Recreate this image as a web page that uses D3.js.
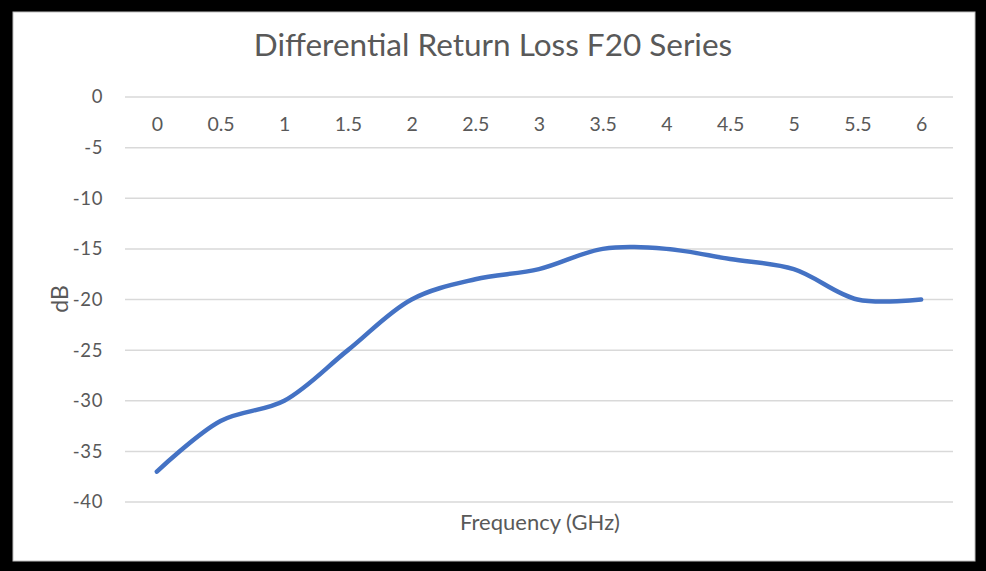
<!DOCTYPE html>
<html><head><meta charset="utf-8">
<script src="https://cdn.jsdelivr.net/npm/d3@7"></script>
<style>html,body{margin:0;padding:0;background:#000;}svg{display:block;}</style>
</head><body>
<svg id="c" width="986" height="571"></svg>
<script>
const categories = ["0","0.5","1","1.5","2","2.5","3","3.5","4","4.5","5","5.5","6"];
const values = [-37,-32,-30,-25,-20,-18,-17,-15,-15,-16,-17,-20,-20];
const yTicks = [0,-5,-10,-15,-20,-25,-30,-35,-40];
const title = "Differential Return Loss F20 Series";
const xTitle = "Frequency (GHz)";
const yTitle = "dB";

const svg = d3.select("#c");
const font = "Lato, 'Open Sans', sans-serif";
svg.append("rect").attr("x",0).attr("y",0).attr("width",986).attr("height",571).attr("fill","#000");
svg.append("rect").attr("x",13).attr("y",12).attr("width",962).attr("height",549).attr("fill","#fff").attr("stroke","#bfbfbf").attr("stroke-width",1);

const L=125,R=953,T=97,B=502;
const x = d3.scalePoint().domain(categories).range([L,R]).padding(0.5);
const y = d3.scaleLinear().domain([-40,0]).range([B,T]);

// gridlines
svg.append("g").selectAll("line").data(yTicks).join("line")
  .attr("x1",L).attr("x2",R).attr("y1",d=>y(d)).attr("y2",d=>y(d))
  .attr("stroke","#d9d9d9").attr("stroke-width",1.5);

// y axis labels
const yAxis = d3.axisLeft(y).tickValues(yTicks).tickSize(0).tickPadding(0).tickFormat(d=>String(d));
const gy = svg.append("g").attr("transform",`translate(${L-22},0)`).call(yAxis);
gy.select(".domain").remove();
gy.selectAll("text").attr("font-family",font).attr("font-size",18.5).attr("fill","#595959").attr("letter-spacing","0.6px");

// x axis labels at zero line
const xAxis = d3.axisBottom(x).tickSize(0).tickPadding(0);
const gx = svg.append("g").attr("transform",`translate(0,${y(0)+20})`).call(xAxis);
gx.select(".domain").remove();
gx.selectAll("text").attr("font-family",font).attr("font-size",19.5).attr("fill","#595959");

// line
const line = d3.line().x((d,i)=>x(categories[i])).y(d=>y(d)).curve(d3.curveCatmullRom.alpha(0.5));
svg.append("path").datum(values).attr("d",line).attr("fill","none")
  .attr("stroke","#4472C4").attr("stroke-width",4.5).attr("stroke-linecap","round").attr("stroke-linejoin","round");

// titles
svg.append("text").attr("x",493).attr("y",56).attr("text-anchor","middle")
  .attr("font-family",font).attr("font-size",31.5).attr("fill","#595959").text(title);
svg.append("text").attr("x",540).attr("y",530).attr("text-anchor","middle")
  .attr("font-family",font).attr("font-size",22).attr("fill","#595959").text(xTitle);
svg.append("text").attr("transform","translate(68,299) rotate(-90)").attr("text-anchor","middle")
  .attr("font-family",font).attr("font-size",23).attr("fill","#595959").text(yTitle);
</script>
</body></html>
